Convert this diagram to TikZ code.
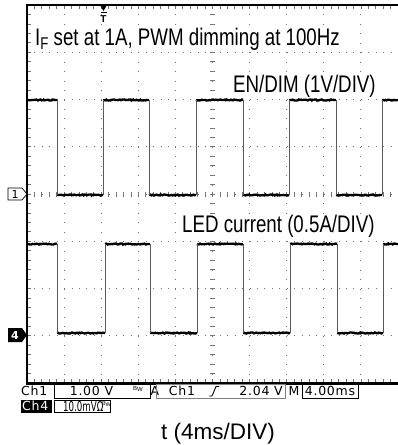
\documentclass[tikz,border=0pt]{standalone}
\usepackage{fontspec}
\setmainfont{Liberation Sans}
\newfontfamily\scopefont[FakeStretch=0.78]{Liberation Sans}
\newfontfamily\barfont[LetterSpace=6]{DejaVu Sans}
\newfontfamily\plainbarfont{DejaVu Sans}
\usetikzlibrary{decorations.pathmorphing}

\tikzset{
  lbl/.style={fill=white, inner sep=1pt, anchor=base west, font=\scopefont\fontsize{24}{24}\selectfont},
  bar/.style={inner sep=0pt, font=\barfont\fontsize{12.5}{13}\selectfont},
  hdots/.style={black!55, line width=0.9pt, dash pattern=on 0.9pt off 6.52pt},
  vdots/.style={black!55, line width=0.9pt, dash pattern=on 0.9pt off 8.55pt},
  tick/.style={black!55, line width=0.7pt},
  level/.style={line width=2.3pt, decorate, decoration={random steps, segment length=1.2pt, amplitude=0.55pt}},
  edge/.style={line width=0.8pt, black!65},
}

\begin{document}
\begin{tikzpicture}[x=1pt, y=-1pt]
  \useasboundingbox (0,0) rectangle (398,445);

  % graticule
  \foreach \i in {1,...,9} \draw[vdots] ({27+\i*37.1},5) -- ({27+\i*37.1},383);
  \foreach \j in {1,...,7} \draw[hdots] (27,{5+\j*47.25}) -- (398,{5+\j*47.25});
  \foreach \k in {1,...,49} {
    \draw[tick] ({27+\k*7.42},191.5) -- ({27+\k*7.42},196.5);
    \draw[tick] ({27+\k*7.42},5) -- ({27+\k*7.42},9);
    \draw[tick] ({27+\k*7.42},379) -- ({27+\k*7.42},383);
  }
  \foreach \k in {1,...,39} {
    \draw[tick] (210,{5+\k*9.45}) -- (215,{5+\k*9.45});
    \draw[tick] (27,{5+\k*9.45}) -- (31,{5+\k*9.45});
  }

  % frame
  \draw[line width=2pt] (398,5) -- (27,5) -- (27,383.5);
  \draw[line width=2.6pt] (25.7,383.5) -- (398,383.5);

  % EN/DIM trace
  \foreach \a/\b in {27/57,103/149,196/243,289/336,382/398} \draw[level] (\a,100) -- (\b,100);
  \foreach \a/\b in {57/103,149/196,243/289,336/382} \draw[level] (\a,195) -- (\b,195);
  \foreach \x in {57,103,149,196,243,289,336,382} \draw[edge] (\x,100) -- (\x,195);

  % LED current trace
  \foreach \a/\b in {28/57,105/150,197/243,290/337,383/398} \draw[level] (\a,244) -- (\b,244);
  \foreach \a/\b in {57/105,150/197,243/290,337/383} \draw[level] (\a,333) -- (\b,333);
  \foreach \x in {57,105,150,197,243,290,337,383} \draw[edge] (\x,244) -- (\x,333);

  % channel and trigger markers
  \draw[line width=0.7pt] (8,188) -- (22,188) -- (27,194) -- (22,200) -- (8,200) -- cycle;
  \node[bar, font=\barfont\fontsize{11}{11}\selectfont] (mk1) at (15,194) {1};
  \fill (8,328) -- (22,328) -- (27,335) -- (22,342) -- (8,342) -- cycle;
  \node[bar, text=white, font=\barfont\bfseries\fontsize{11}{11}\selectfont] (mk4) at (15,335) {4};
  \fill (100,5) -- (107,5) -- (103.5,11) -- cycle;
  \draw[line width=1pt] (100.5,12.5) -- (106.5,12.5);
  \node[inner sep=0pt, font=\bfseries\fontsize{10}{10}\selectfont] (trig) at (103.5,19) {T};

  % labels
  \node[lbl] (title) at (34,45) {I\raisebox{-4pt}{\fontsize{17}{17}\selectfont F} set at 1A, PWM dimming at 100Hz};
  \node[lbl] (endim) at (232,92) {EN/DIM (1V/DIV)};
  \node[lbl] (ledcur) at (181,232) {LED current (0.5A/DIV)};
  \node[inner sep=0pt, anchor=base west, font=\fontsize{22.5}{23}\selectfont] (taxis) at (161,439) {t (4ms/DIV)};

  % status bar
  \node[bar, anchor=west] (ch1) at (21,391) {Ch1};
  \draw[line width=0.8pt] (54,384.5) rectangle (150,398);
  \node[bar] (vdiv) at (91.5,391) {1.00 V};
  \node[inner sep=0pt, font=\fontsize{6}{6}\selectfont] (bw1) at (138,389) {B\raisebox{-1.5pt}{W}};
  \node[bar] (acpl) at (155,391) {A};
  \draw[line width=0.8pt, black!50] (156,384.5) rectangle (285,398);
  \node[bar] (trch) at (182,391) {Ch1};
  \draw[line width=0.9pt] (209,396) -- (212,396) -- (216,386.5) -- (219,386.5);
  \node[bar, anchor=east] (trlev) at (283,391) {2.04 V};
  \node[bar] (mlbl) at (294,391) {M};
  \draw[line width=0.8pt] (302,384.5) rectangle (358,398);
  \node[bar] (tdiv) at (330,391) {4.00ms};
  \fill (21,400) rectangle (52,412.5);
  \node[bar, text=white, anchor=west] (ch4) at (22,406.3) {Ch4};
  \draw[line width=0.8pt] (54,400) rectangle (110,412.5);
  \node[inner sep=0pt, anchor=west, font=\plainbarfont\fontsize{13.5}{14}\selectfont] (idiv) at (63,406.3) {\scalebox{0.64}[1]{10.0mVΩ}};
  \node[inner sep=0pt, font=\fontsize{5.5}{6}\selectfont] (bw4) at (106.5,404) {B\raisebox{-1.5pt}{W}};
\end{tikzpicture}
\end{document}
